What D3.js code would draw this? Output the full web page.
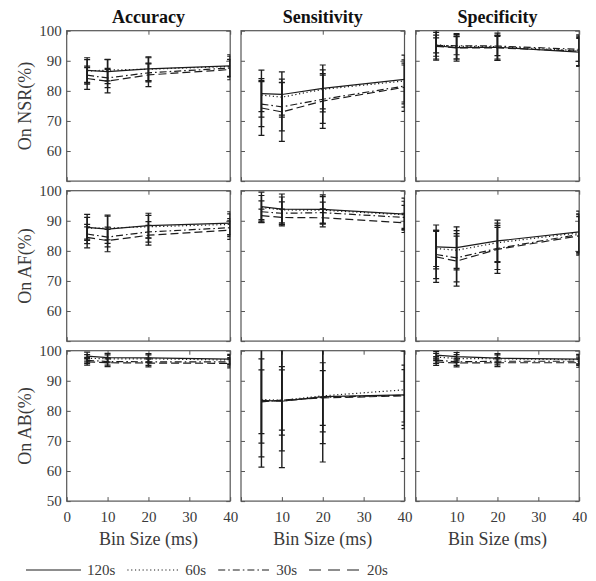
<html>
<head>
  <script src="https://cdn.jsdelivr.net/npm/d3@7"></script>
</head>
<body style="margin:0">
<svg id="chart" width="596" height="581" style="font-family:'Liberation Serif'"></svg>
<script>

// bin sizes on the x axis and the four window lengths
const binSizes = [5, 10, 20, 40];
const windows = ["120s", "60s", "30s", "20s"];
const metrics = ["Accuracy", "Sensitivity", "Specificity"];
const datasets = ["On NSR(%)", "On AF(%)", "On AB(%)"];

// means, one row per window (120s, 60s, 30s, 20s)
const nsrAcc  = [[86.8, 86.4, 87.3, 88.3], [86.6, 86.9, 87.2, 88.1], [85.2, 84.3, 86.0, 87.6], [84.1, 83.2, 85.3, 87.1]];
const nsrSens = [[79.1, 78.8, 80.8, 83.8], [78.6, 77.9, 80.5, 83.3], [75.6, 74.7, 77.2, 81.6], [74.3, 73.0, 76.6, 81.2]];
const nsrSpec = [[95.0, 94.4, 94.5, 92.9], [95.3, 94.8, 94.7, 93.4], [95.1, 95.0, 94.9, 93.8], [94.8, 94.3, 94.3, 93.2]];
const afAcc   = [[87.8, 87.2, 88.4, 89.2], [87.5, 87.6, 88.0, 88.8], [85.6, 84.6, 86.3, 87.7], [84.5, 83.4, 85.2, 86.9]];
const afSens  = [[94.7, 93.9, 93.8, 92.2], [94.4, 93.6, 93.5, 92.0], [93.0, 92.5, 92.7, 91.1], [91.7, 91.1, 91.0, 89.3]];
const afSpec  = [[81.3, 81.1, 83.3, 86.3], [80.8, 80.2, 82.7, 86.0], [78.8, 77.7, 80.8, 85.5], [78.0, 76.6, 80.5, 85.0]];
const abAcc   = [[98.2, 97.7, 97.6, 97.2], [97.5, 97.3, 97.3, 96.9], [96.8, 96.4, 96.3, 96.3], [96.3, 96.0, 95.9, 95.8]];
const abSens  = [[83.5, 83.2, 84.7, 85.3], [83.8, 83.5, 85.0, 87.0], [83.3, 83.3, 84.5, 85.2], [83.0, 83.6, 84.3, 85.0]];
const abSpec  = [[98.5, 98.0, 97.5, 97.2], [97.9, 97.4, 97.3, 97.0], [96.9, 96.3, 96.5, 96.5], [96.3, 95.9, 96.0, 96.0]];

// standard deviations (error bar half lengths)
const nsrAccErr  = [[4.2, 4.0, 4.0, 3.7], [3.8, 3.6, 3.8, 3.4], [3.0, 3.2, 3.0, 2.8], [3.6, 3.9, 3.9, 3.4]];
const nsrSensErr = [[7.8, 7.5, 7.8, 8.1], [5.5, 6.0, 6.5, 7.0], [7.5, 8.0, 8.0, 7.0], [9.1, 9.8, 9.1, 8.0]];
const nsrSpecErr = [[3.5, 3.8, 3.9, 4.5], [4.7, 4.2, 4.5, 5.2], [2.5, 3.0, 3.2, 4.0], [4.6, 4.4, 4.2, 5.0]];
const afAccErr   = [[4.3, 4.7, 4.1, 3.8], [3.6, 3.9, 3.8, 3.5], [3.2, 3.3, 3.4, 3.0], [3.5, 3.7, 3.3, 3.1]];
const afSensErr  = [[4.8, 5.0, 4.8, 5.3], [4.0, 4.3, 4.5, 4.5], [3.6, 3.8, 3.5, 4.0], [2.2, 2.8, 3.0, 3.2]];
const afSpecErr  = [[7.3, 6.9, 6.9, 6.9], [6.0, 6.5, 6.5, 6.3], [8.0, 8.0, 7.0, 6.5], [8.5, 8.3, 8.0, 6.4]];
const abAccErr   = [[1.3, 1.4, 1.4, 1.6], [1.2, 1.3, 1.3, 1.5], [1.0, 1.2, 1.2, 1.4], [1.1, 1.3, 1.3, 1.5]];
const abSensErr  = [[22.2, 22.1, 21.7, 21.2], [19.1, 16.8, 15.9, 12.9], [14.0, 11.4, 11.5, 10.0], [10.6, 10.0, 9.1, 8.7]];
const abSpecErr  = [[1.3, 1.4, 1.5, 1.6], [1.2, 1.3, 1.3, 1.5], [1.1, 1.2, 1.2, 1.4], [1.2, 1.3, 1.3, 1.5]];

const means = [[nsrAcc, nsrSens, nsrSpec], [afAcc, afSens, afSpec], [abAcc, abSens, abSpec]];
const errs  = [[nsrAccErr, nsrSensErr, nsrSpecErr], [afAccErr, afSensErr, afSpecErr], [abAccErr, abSensErr, abSpecErr]];

// layout
const colX = [66.7, 241, 415.7];
const rowY = [30.7, 190.7, 350.7];
const pw = 163.5, ph = 150.4;
const dashes = [null, "1.2,2.6", "7,3,1.6,3", "8,4"];
const ink = "#1c1c1c", axisCol = "#555", labelCol = "#3a3a3a";
const serif = "'Liberation Serif'";

const svg = d3.select("#chart");

// helper so every label gets the serif face
function label(sel, size, txt) {
  return sel.append("text").style("font-family", serif).style("font-size", size + "px")
    .attr("fill", labelCol).text(txt);
}

metrics.forEach((m, c) => {
  label(svg, 18, m)
    .attr("x", colX[c] + pw / 2).attr("y", 23)
    .attr("text-anchor", "middle").style("font-weight", "bold").attr("fill", "#111");
});

datasets.forEach((d, r) => {
  label(svg, 18, d)
    .attr("transform", "translate(31," + (rowY[r] + ph / 2) + ") rotate(-90)")
    .attr("text-anchor", "middle");
});

for (let r = 0; r < 3; r++) {
  for (let c = 0; c < 3; c++) {
    const x = d3.scaleLinear().domain([0, 40]).range([colX[c], colX[c] + pw]);
    const y = d3.scaleLinear().domain([50, 100]).range([rowY[r] + ph, rowY[r]]);
    const g = svg.append("g");
    const clipId = "clip" + r + c;
    svg.append("clipPath").attr("id", clipId)
      .append("rect").attr("x", colX[c]).attr("y", rowY[r]).attr("width", pw).attr("height", ph);

    const xt = r === 2 ? [0, 10, 20, 30, 40] : [0, 20, 40];
    const yt = [50, 60, 70, 80, 90, 100];

    // inward ticks on all four sides
    const bottom = d3.axisBottom(x).tickValues(xt).tickSize(-4).tickPadding(10)
      .tickFormat(v => (r === 2 && !(c > 0 && v === 0)) ? v : "");
    const top = d3.axisTop(x).tickValues(xt).tickSize(-4).tickFormat("");
    const left = d3.axisLeft(y).tickValues(yt).tickSize(-4).tickPadding(5)
      .tickFormat(v => (c === 0 && (r === 2 || v > 50)) ? v : "");
    const right = d3.axisRight(y).tickValues(yt).tickSize(-4).tickFormat("");

    [[bottom, "translate(0," + (rowY[r] + ph) + ")"], [top, "translate(0," + rowY[r] + ")"],
     [left, "translate(" + colX[c] + ",0)"], [right, "translate(" + (colX[c] + pw) + ",0)"]]
      .forEach(([ax, tr]) => {
        const a = g.append("g").attr("transform", tr).call(ax);
        a.attr("font-family", null).attr("font-size", null);
        a.select(".domain").remove();
        a.selectAll("line").attr("stroke", axisCol);
        a.selectAll("text").style("font-size", "15px").attr("fill", labelCol)
          .style("font-family", serif);
      });

    g.append("rect")
      .attr("x", colX[c]).attr("y", rowY[r]).attr("width", pw).attr("height", ph)
      .attr("fill", "none").attr("stroke", axisCol).attr("stroke-width", 1.2);

    const plot = g.append("g").attr("clip-path", "url(#" + clipId + ")");
    const line = d3.line().x((v, i) => x(binSizes[i])).y(v => y(v));

    means[r][c].forEach((s, k) => {
      plot.append("path").attr("d", line(s))
        .attr("fill", "none").attr("stroke", ink).attr("stroke-width", 1.2)
        .attr("stroke-dasharray", dashes[k]);
    });

    means[r][c].forEach((s, k) => {
      const e = errs[r][c][k];
      s.forEach((v, i) => {
        const px = x(binSizes[i]);
        const y1 = y(v + e[i]), y2 = y(v - e[i]);
        plot.append("line").attr("x1", px).attr("x2", px).attr("y1", y1).attr("y2", y2)
          .attr("stroke", ink).attr("stroke-width", 1.4);
        [y1, y2].forEach(yy => {
          plot.append("line").attr("x1", px - 3).attr("x2", px + 3).attr("y1", yy).attr("y2", yy)
            .attr("stroke", ink).attr("stroke-width", 1.2);
        });
      });
    });
  }
}

metrics.forEach((m, c) => {
  label(svg, 18, "Bin Size (ms)")
    .attr("x", colX[c] + pw / 2).attr("y", 545)
    .attr("text-anchor", "middle");
});

// legend
let lx = 26;
windows.forEach((w, k) => {
  const len = k === 0 ? 55 : 52;
  svg.append("line").attr("x1", lx).attr("x2", lx + len).attr("y1", 570).attr("y2", 570)
    .attr("stroke", ink).attr("stroke-width", 1.1).attr("stroke-dasharray", k === 3 ? "12,7" : dashes[k]);
  const t = label(svg, 15, w).attr("x", lx + len + 6).attr("y", 575);
  lx += len + 6 + t.node().getComputedTextLength() + 12;
});

</script>
</body>
</html>
